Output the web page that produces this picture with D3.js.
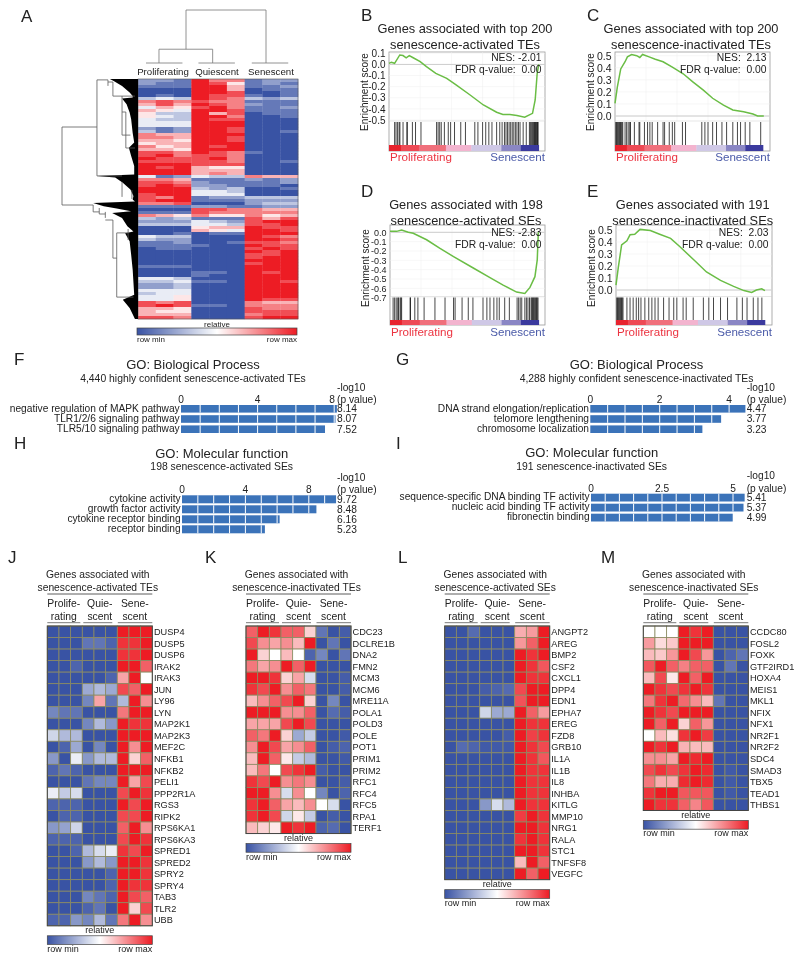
<!DOCTYPE html>
<html><head><meta charset="utf-8">
<script src="https://cdn.jsdelivr.net/npm/d3@7"></script>
<style>html,body{margin:0;background:#fff}svg{display:block;font-family:"Liberation Sans",Arial,sans-serif;filter:blur(.3px)}text{fill:#222}</style>
</head><body><svg id="c" width="800" height="961" viewBox="0 0 800 961"></svg>
<script>
// ---------- DATA ----------
const groupNames = ["Proliferating","Quiescent","Senescent"];
// Panel A: each row is 9 samples, digit 0 = row min, 9 = row max
const aRows = ["221977122","211985121","111996112","000996011","000998001","010988101","343987323","787877111","686987211","465897112",
"654998111","533968011","543997001","433988000","444999000","444999000","212998000","312998001","766999000","776998000",
"665998000","566999000","756989000","665999000","887987100","897887000","988897000","888887001","999888000","989655000",
"999666000","999676000","412433766","776111212","887211112","898221110","999323001","999443000","899444000","879122333",
"899111222","778000233","111221122","000887766","111877777","765755756","323111868","222432899","333443889","000566988",
"000654998","001011999","433000987","322000998","112001887","111100988","011000898","000000989","000000889","000000899",
"000000999","000000899","111000999","000000999","000110989","000100999","443000999","334110998","223000999","223000999",
"444000999","344000999","445000999","445000988","878000766","898110777","665000877","655000888","666000788","887000899"];
// row dendrogram: black mass outline [row, height]
const aMass = [[0,37],[0.7,32],[2.3,21],[4.5,11],[5.7,7],[6.2,7],[6.5,21],[8.4,15],[11.2,11],[13.4,9],[18,7],[21.2,5],[22.9,12],[25.7,9],[29,5],[31.8,5],[32.3,54],[32.8,30],[34.6,20],[36.8,10],[39,6],[40.2,7],[40.8,4],[41.3,59],[42.4,45],[43.2,28],[44.1,9],[44.7,34],[46.3,21],[49.1,14],[50.8,6],[51.4,17],[54.1,11],[58.6,9],[63.6,7],[71.9,5],[73.6,20],[76.3,11],[80,4]];
// row dendrogram links [height, rowA, rowB] (vertical) and [row, heightA, heightB] (horizontal)
const aRowV = [[100,16,42],[54,0.3,32.3],[39.5,0.3,2.3],[33,1,5.7],[21,5.7,18.7],[16,11,23],[21,34.3,39.3],[8,37,40],[59,42,44.3],[51,43,45],[43,44.3,46.3],[33,47,59.7],[28,51.3,72.7],[13,50,53.7]];
const aRowH = [[16,100,54],[42,100,59],[0.3,54,39.5],[1,39.5,33],[5.7,33,4],[32.3,54,21],[18.7,21,10],[23,16,4],[11,21,16],[44.3,59,51],[45,51,43],[47,43,33],[59.7,33,28],[72.7,28,6],[51.3,28,13]];
// column dendrogram [colA, colB, height] with legs [col, h0, h1]
const aColH = [[2.7,7.2,100],[1.18,4.2,26],[0.45,2.5,0],[3.4,5.45,0],[6.4,8.45,0]];
const aColV = [[2.7,100,26],[7.2,100,0],[1.18,26,0],[4.2,26,0]];

// GSEA running enrichment [rank %, ES]
const bCurve = [[0,.01],[1.5,.02],[3.6,.01],[6.9,.085],[9,.08],[11,.06],[13,.08],[15.5,.06],[20,.025],[24,-.02],[30,-.08],[37,-.125],[43,-.185],[52,-.275],[60.5,-.365],[69,-.43],[73,-.45],[77.5,-.45],[82,-.46],[87,-.475],[92,-.44],[93.7,-.32],[95,-.08],[96,0]];
const cCurve = [[0,.105],[1.5,.24],[3.7,.39],[6.5,.45],[8,.49],[10.7,.51],[14,.5],[16,.485],[17.8,.51],[22,.49],[26,.47],[31,.45],[37,.405],[44,.35],[50,.285],[57,.215],[63,.147],[70,.09],[76,.05],[83,.036],[89,.017],[92,0],[96,0]];
const dCurve = [[0,.01],[4.3,.01],[7.5,.025],[11.8,0],[15,-.01],[23.6,-.08],[32,-.17],[41,-.26],[54,-.385],[64.5,-.485],[73,-.565],[81.7,-.64],[87,-.655],[90.3,-.59],[93.5,-.475],[95,-.295],[95.7,0]];
const eCurve = [[0,.04],[1.5,.19],[3.6,.375],[7,.41],[9,.46],[12,.465],[15.4,.505],[22,.495],[28,.465],[35,.43],[41,.36],[50,.25],[58,.15],[67,.08],[75.4,.03],[82,-.005],[87,-.02],[90,0],[93.4,.01],[95.5,-.005]];
// gene hits, rank %
const bHits = [3.6,4.5,5.5,6.5,7,9,11.5,11.7,15,17,20.5,30.5,31.5,32.5,33.5,35.5,38,39.5,42,46,49,55,57,60,62,64,66,69,71,72.5,74,75,76,77,78,79,80,81,82,83,84,86,88,90,90.6,91.2,91.8,92.3,92.8,93.2,93.6,94,94.4,94.8,95.2,95.6];
const cHits = [.5,1,1.5,2,2.5,3,3.5,4,4.5,5,6.5,7.5,8.5,9.5,10,12.5,15.5,16,19,21,22.5,24,27.5,31,32,35,37,38.5,43.5,45.5,56,58,60,63,65.5,69,72,76,79,81,84,87,94];
const dHits = [2,3,4,5,5.5,6.5,7,7.5,13,13.2,16,18,22,29,35.5,41,42,46.5,50.5,53.5,60,62.5,64.5,67,69,70.5,74,77,82,83,84,85,87,88,89,90,91,91.5,92,92.5,93,93.5,94,94.5,95,95.5];
const eHits = [.5,1,1.5,2,2.5,3,3.5,4,4.5,7,9,11,13,14.5,16,18.5,21,23,25,27,30.5,34,37,39,43,45,49.5,56,59.5,62.5,67,71.5,77.5,81,84,88,91,93.5];
const stripStops = [[0,"#e8232e"],[8,"#ee4a55"],[20,"#f0707c"],[38,"#f3b4cf"],[55,"#cfc8e6"],[75,"#8a86c4"],[88,"#3b3a9e"]];

// GO bars
const fTerms = ["negative regulation of MAPK pathway","TLR1/2/6 signaling pathway","TLR5/10 signaling pathway"], fVals = [8.14,8.07,7.52];
const gTerms = ["DNA strand elongation/replication","telomore lengthening","chromosome localization"], gVals = [4.47,3.77,3.23];
const hTerms = ["cytokine activity","growth factor activity","cytokine receptor binding","receptor binding"], hVals = [9.72,8.48,6.16,5.23];
const iTerms = ["sequence-specific DNA binding TF activity","nucleic acid binding TF activity","fibronectin binding"], iVals = [5.41,5.37,4.99];

// Heat maps: 0 = row min, 5 = middle, 10 = row max
const jGenes = ["DUSP4","DUSP5","DUSP6","IRAK2","IRAK3","JUN","LY96","LYN","MAP2K1","MAP2K3","MEF2C","NFKB1","NFKB2","PELI1","PPP2R1A","RGS3","RIPK2","RPS6KA1","RPS6KA3","SPRED1","SPRED2","SPRY2","SPRY4","TAB3","TLR2","UBB"];
const jVals = [[0,0,0,0,0,0,10,10,10],[0,0,0,1,1,.5,9.5,9.5,10],[0,0,0,0,0,0,9.5,9.5,10],[0,0,.5,0,0,0,10,10,8.5],[0,0,0,0,0,.5,7,10,5],[0,0,0,2.5,3,2.5,9,8.5,10],[0,0,0,1.5,7,1,3,10,7.5],[1.5,1,1,0,0,0,8,10,10],[0,0,0,1.5,3,2,10,9.5,9.5],[3.8,3,3,0,0,0,10,10,10],[0,.5,2.5,0,1.5,0,10,7.5,10],[2,0,4.5,2,3,3,10,6,8.5],[.5,1,.5,0,0,0,10,10,10],[0,0,0,1,1.5,1.5,10,7,9],[4.5,3.5,4,0,0,0,9,10,9.5],[.5,.5,.5,0,0,0,10,9,10],[0,.5,.5,0,0,0,9,9,10],[2,2.3,3.8,0,0,0,8.5,10,7.5],[.5,.5,.5,0,0,0,9,10,9.5],[0,0,.5,3,4,4.5,9.5,9,10],[0,0,0,2,3,2,10,10,9.5],[0,0,0,0,0,.5,10,10,9.5],[0,0,0,0,0,.5,10,9.5,9.5],[0,0,0,1.5,1,.5,10,9,8.5],[0,0,0,.5,1,0,10,6,9],[.5,.5,2,1.5,3,1,8,10,7.5]];
const kGenes = ["CDC23","DCLRE1B","DNA2","FMN2","MCM3","MCM6","MRE11A","POLA1","POLD3","POLE","POT1","PRIM1","PRIM2","RFC1","RFC4","RFC5","RPA1","TERF1"];
const kVals = [[8.5,10,9.5,8.5,8.5,6,1,0,.3],[9,7.5,7,7.5,6.5,10,0,1,0],[10,6,5,6.5,5,.5,1.5,0,1],[8,7,7.5,10,8.5,10,0,0,0],[10,10,9.5,6,7,4,0,0,.3],[9.5,9,10,7.5,8.5,8,0,0,.3],[6.5,7.5,8.5,9,10,6,0,1.5,0],[10,10,10,7.5,7.5,8.5,0,.7,.3],[7,7,7,9,10,9,0,0,0],[8.5,8,10,6,2.5,3.5,0,0,.2],[7.5,10,9,7,7.5,8.5,0,.3,.5],[6.5,10,8.5,5.5,3.5,3,0,0,.2],[6.5,8,5,9,9.5,10,.3,0,0],[9.5,9,10,7.5,8,7.5,0,0,.3],[10,10,7.5,4,7.5,5,1.5,0,.5],[9.5,10,8.5,7,6.5,7.5,5,4,0],[9.5,10,9,3.8,5.5,3.5,0,.3,0],[6.5,6,5.5,10,9.5,10,.5,.7,0]];
const lGenes = ["ANGPT2","AREG","BMP2","CSF2","CXCL1","DPP4","EDN1","EPHA7","EREG","FZD8","GRB10","IL1A","IL1B","IL8","INHBA","KITLG","MMP10","NRG1","RALA","STC1","TNFSF8","VEGFC"];
const lVals = [[0,0,.7,0,0,0,6.8,7.2,10],[0,0,0,0,0,0,7.3,8.5,10],[0,0,0,0,0,0,10,9.5,10],[0,0,0,0,0,0,10,9.5,8.7],[0,0,0,0,0,0,10,9.5,9.5],[0,0,0,.3,.5,.7,9,10,10],[0,0,0,0,0,0,8.8,10,10],[0,0,0,3.8,2.5,2.5,10,8.5,7.2],[0,0,0,0,0,0,10,9.5,9.5],[0,0,0,0,0,.3,10,9.2,9.5],[0,.7,.5,.2,.2,.2,10,9.5,9],[0,0,0,0,0,0,10,9.5,8.7],[0,0,0,0,0,0,10,9.5,9.5],[0,0,0,0,0,0,10,9.5,9.5],[0,0,0,0,0,0,10,9.5,9.5],[0,0,0,2,4,3,10,9.5,9.5],[0,0,0,0,0,0,9.3,10,9.5],[0,0,0,0,0,0,10,10,9.5],[0,0,0,0,0,0,9.5,10,9.5],[0,0,0,0,0,0,10,10,9.5],[0,0,0,0,0,0,6.5,10,8.5],[0,0,0,0,0,0,10,8.5,10]];
const mGenes = ["CCDC80","FOSL2","FOXK","GTF2IRD1","HOXA4","MEIS1","MKL1","NFIX","NFX1","NR2F1","NR2F2","SDC4","SMAD3","TBX5","TEAD1","THBS1"];
const mVals = [[5,5,5,10,9.5,10,0,0,0],[7.2,5.8,6.2,10,10,10,0,0,0],[6.5,6.2,7.3,10,9,7.3,0,.5,1],[8.7,10,8.5,7.8,8.5,8.5,0,1,0],[6.5,9,5.5,10,8.5,10,0,0,0],[10,9.5,9,9.5,10,9.5,0,0,0],[8,9.5,10,8.3,7.5,6.5,1,0,0],[10,9.5,9,10,10,10,0,0,0],[10,8.5,10,6,8.5,7.3,0,0,0],[5,6.5,5.7,9.5,10,9.3,0,0,0],[10,9.5,10,6.7,6.5,6.5,0,0,0],[7.5,7.5,7,10,9.7,10,0,0,0],[9,9.5,9,9.5,10,9.7,0,.2,0],[8,6.8,6.8,9.7,10,9.7,0,.2,0],[9.5,10,10,8.7,8.7,8.7,0,.2,0],[10,9.5,9.5,8.5,7.7,8.7,0,0,0]];

// ---------- DRAWING ----------
const svg = d3.select("#c");
const BLUE="#3953a4", RED="#ed1c24";
const heat = d3.scaleLinear().domain([0,5,10]).range([BLUE,"#ffffff",RED]);
const txt=(g,x,y,s,size,anchor="start",fill="#222")=>g.append("text").attr("x",x).attr("y",y).attr("font-size",size).attr("text-anchor",anchor).style("fill",fill).text(s);

const grad = svg.append("defs").append("linearGradient").attr("id","hg");
d3.range(0,10.01,1).forEach(v=>grad.append("stop").attr("offset",(v*10)+"%").attr("stop-color",heat(v)));

// panel letters
[["A",21,22],["B",361,21],["C",587,21],["D",361,197],["E",587,197],["F",14,365],["G",396,365],["H",14,449],["I",396,449],["J",8,563],["K",205,563],["L",398,563],["M",601,563]]
 .forEach(d=>txt(svg,d[1],d[2],d[0],17));

function colorbar(x0,x1,y0,y1,relY,lblY,size){
  svg.append("rect").attr("x",x0).attr("y",y0).attr("width",x1-x0).attr("height",y1-y0).attr("fill","url(#hg)").attr("stroke","#444").attr("stroke-width",.7);
  txt(svg,(x0+x1)/2,relY,"relative",size,"middle");
  txt(svg,x0,lblY,"row min",size);
  txt(svg,x1,lblY,"row max",size,"end");
}

// Panel A
(function(){
  const g=svg.append("g");
  const xs=d3.scaleLinear([0,9],[138,298]), ys=d3.scaleLinear([0,aRows.length],[79,319]);
  const hx=d3.scaleLinear([0,100],[138,62]);
  g.selectAll("g.r").data(aRows).join("g").each(function(row,i){
    d3.select(this).selectAll("rect").data(row.split("").map(Number)).join("rect")
      .attr("x",(d,j)=>xs(j)).attr("y",ys(i)).attr("width",xs(1)-xs(0)+.3).attr("height",ys(1)-ys(0)+.2)
      .attr("fill",d=>heat(d/9*10));
  });
  g.append("rect").attr("x",138).attr("y",79).attr("width",160).attr("height",240).attr("fill","none").attr("stroke","#555").attr("stroke-width",.6);
  const area=d3.area().x0(d=>hx(d[1])).x1(hx(0)).y(d=>ys(d[0]));
  g.append("path").attr("d",area(aMass)).attr("fill","#000");
  const link=g.append("g").attr("stroke","#5a5a5a").attr("stroke-width",.8).attr("fill","none");
  aRowV.forEach(d=>link.append("line").attr("x1",hx(d[0])).attr("x2",hx(d[0])).attr("y1",ys(d[1])).attr("y2",ys(d[2])));
  aRowH.forEach(d=>link.append("line").attr("y1",ys(d[0])).attr("y2",ys(d[0])).attr("x1",hx(d[1])).attr("x2",hx(d[2])));
  const cy=d3.scaleLinear([0,100],[63,10]);
  const cl=g.append("g").attr("stroke","#777").attr("stroke-width",.8);
  aColH.forEach(d=>cl.append("line").attr("x1",xs(d[0])).attr("x2",xs(d[1])).attr("y1",cy(d[2])).attr("y2",cy(d[2])));
  aColV.forEach(d=>cl.append("line").attr("x1",xs(d[0])).attr("x2",xs(d[0])).attr("y1",cy(d[1])).attr("y2",cy(d[2])));
  groupNames.forEach((n,i)=>txt(g,[163,217,271][i],75,n,9.7,"middle"));
  colorbar(137,297,328,335,327,342,8);
})();

// GSEA panels
function gsea(o){
  const g=svg.append("g");
  const [L,R]=o.frame, T=o.top, B=o.bottom;
  const x=d3.scaleLinear([0,100],[L,R]);
  const y=d3.scaleLinear(o.yd,o.yr);
  g.append("rect").attr("x",L).attr("y",T).attr("width",R-L).attr("height",B-T).attr("fill","none").attr("stroke","#999").attr("stroke-width",.8);
  const gr=g.append("g").attr("stroke","#eee").attr("stroke-width",.5);
  o.ticks.forEach(t=>gr.append("line").attr("x1",L).attr("x2",R).attr("y1",y(t)).attr("y2",y(t)));
  d3.range(20,100,20).forEach(t=>gr.append("line").attr("x1",x(t)).attr("x2",x(t)).attr("y1",T).attr("y2",o.curveB));
  g.append("line").attr("x1",L).attr("x2",R).attr("y1",y(0)).attr("y2",y(0)).attr("stroke","#ccc").attr("stroke-width",1);
  g.append("line").attr("x1",L).attr("x2",R).attr("y1",o.curveB).attr("y2",o.curveB).attr("stroke","#ccc").attr("stroke-width",.5);
  g.append("path").attr("d",d3.line().x(d=>x(d[0])).y(d=>y(d[1]))(o.curve)).attr("fill","none").attr("stroke","#6abd45").attr("stroke-width",1.5);
  g.append("g").selectAll("line").data(o.hits).join("line").attr("x1",d=>x(d)).attr("x2",d=>x(d)).attr("y1",o.curveB+1).attr("y2",o.stripT)
    .attr("stroke","#000").attr("stroke-width",1).attr("stroke-opacity",.72);
  stripStops.forEach((s,i)=>{
    const e=i<stripStops.length-1?stripStops[i+1][0]:100;
    g.append("rect").attr("x",x(s[0]*o.stripEnd/100)).attr("width",x(e*o.stripEnd/100)-x(s[0]*o.stripEnd/100)+.3).attr("y",o.stripT).attr("height",B-o.stripT).attr("fill",s[1]);
  });
  const ax=d3.axisLeft(y).tickValues(o.ticks).tickFormat(d=>d3.format(".1f")(d).replace("−","-")).tickSize(0).tickPadding(3);
  const ag=g.append("g").attr("transform",`translate(${L-.5},0)`).call(ax);
  ag.select(".domain").remove();
  ag.selectAll("text").attr("font-size",o.tickSize||10.5).attr("font-family",'"Liberation Sans",Arial,sans-serif').style("fill","#222");
  g.append("text").attr("transform",`translate(${L-21.5},${o.labelY}) rotate(-90)`).attr("font-size",10).attr("text-anchor","middle").style("fill","#222").text("Enrichment score");
  o.title.forEach((s,i)=>txt(g,o.cx,o.titleY+i*15.7,s,12.8,"middle"));
  txt(g,R-3.5,o.nesY,o.nes,10.3,"end").attr("xml:space","preserve");
  txt(g,R-3.5,o.nesY+12.4,"FDR q-value:  0.00",10.3,"end").attr("xml:space","preserve");
  txt(g,L+1,o.lowY,"Proliferating",11.6,"start","#ec3340");
  txt(g,R,o.lowY,"Senescent",11.6,"end","#4a5aa8");
}
gsea({frame:[389,545],top:52,bottom:151,curveB:121,stripT:145,yd:[.1,-.5],yr:[53.3,120],ticks:[.1,0,-.1,-.2,-.3,-.4,-.5],tickSize:10,curve:bCurve,hits:bHits,stripEnd:96,labelY:92,cx:465,titleY:33,title:["Genes associated with top 200","senescence-activated TEs"],nes:"NES: -2.01",nesY:61,lowY:161});
gsea({frame:[615,770],top:52,bottom:151,curveB:121,stripT:145,yd:[.5,0],yr:[55.7,116],ticks:[.5,.4,.3,.2,.1,0],curve:cCurve,hits:cHits,stripEnd:95.5,labelY:92,cx:691,titleY:33,title:["Genes associated with top 200","senescence-inactivated TEs"],nes:"NES:  2.13",nesY:61,lowY:161});
gsea({frame:[390,545],top:225,bottom:325,curveB:296.5,stripT:320,yd:[0,-.7],yr:[232.3,297.7],ticks:[0,-.1,-.2,-.3,-.4,-.5,-.6,-.7],tickSize:9,curve:dCurve,hits:dHits,stripEnd:96,labelY:268,cx:466,titleY:209,title:["Genes associated with 198","senescence-activated SEs"],nes:"NES: -2.83",nesY:235.7,lowY:336});
gsea({frame:[616,772],top:225,bottom:325,curveB:296.5,stripT:320,yd:[.5,0],yr:[230,290],ticks:[.5,.4,.3,.2,.1,0],curve:eCurve,hits:eHits,stripEnd:95.5,labelY:268,cx:692.7,titleY:209,title:["Genes associated with 191","senescence-inactivated SEs"],nes:"NES:  2.03",nesY:235.7,lowY:336});

// GO panels
function goPanel(o){
  const g=svg.append("g");
  const x=d3.scaleLinear([0,o.unitMax],[o.x0,o.x0+o.unitMax*o.ppu]);
  txt(g,o.cx,o.titleY,o.title,13,"middle");
  txt(g,o.cx,o.subY,o.sub,10.4,"middle");
  txt(g,o.valX,o.logY,"-log10",10.2);
  txt(g,o.valX,o.logY+12.5,"(p value)",10.2);
  o.ticks.forEach(t=>txt(g,x(t)-(t===o.ticks[o.ticks.length-1]&&o.nudge?o.nudge:0),o.logY+12.5,String(t),10.2,"middle"));
  const yb=d3.scaleBand().domain(d3.range(o.vals.length)).range([o.rowY,o.rowY+o.vals.length*o.pitch]);
  o.vals.forEach((v,i)=>{
    const y0=yb(i);
    g.append("rect").attr("x",o.x0).attr("y",y0).attr("width",x(v)-o.x0).attr("height",o.barH).attr("fill","#3b73b9");
    d3.range(o.step,v,o.step).forEach(k=>g.append("line").attr("x1",x(k)).attr("x2",x(k)).attr("y1",y0).attr("y2",y0+o.barH).attr("stroke","#fff").attr("stroke-width",1));
    txt(g,o.x0-1.3,y0+6.7,o.terms[i],10.2,"end");
    txt(g,o.valX,y0+7.2,d3.format(".2f")(v),10.2);
  });
}
goPanel({title:"GO: Biological Process",sub:"4,440 highly confident senescence-activated TEs",cx:193,titleY:369,subY:382,x0:181,ppu:19.15,unitMax:9,step:1,ticks:[0,4,8],nudge:2,vals:fVals,terms:fTerms,rowY:405,pitch:10.2,barH:7.6,valX:337,logY:390.5});
goPanel({title:"GO: Biological Process",sub:"4,288 highly confident senescence-inactivated TEs",cx:636.5,titleY:369,subY:382,x0:590.3,ppu:34.7,unitMax:5,step:.5,ticks:[0,2,4],vals:gVals,terms:gTerms,rowY:405,pitch:10.2,barH:7.6,valX:746.7,logY:390.5});
goPanel({title:"GO: Molecular function",sub:"198 senescence-activated SEs",cx:221.7,titleY:458,subY:470,x0:182,ppu:15.85,unitMax:10,step:1,ticks:[0,4,8],vals:hVals,terms:hTerms,rowY:495.3,pitch:10,barH:8,valX:337,logY:480.5});
goPanel({title:"GO: Molecular function",sub:"191 senescence-inactivated SEs",cx:591.7,titleY:457,subY:470,x0:591,ppu:28.4,unitMax:5.5,step:.5,ticks:[0,2.5,5],vals:iVals,terms:iTerms,rowY:493.7,pitch:10,barH:7.8,valX:746.7,logY:479.2});

// Heat map panels
function heatPanel(o){
  const g=svg.append("g");
  const n=o.genes.length, L=o.x0, R=L+105, T=626, B=T+n*11.53;
  const xs=d3.scaleBand().domain(d3.range(9)).range([L,R]);
  const ys=d3.scaleBand().domain(o.genes).range([T,B]);
  o.genes.forEach((gene,i)=>{
    g.append("g").selectAll("rect").data(o.vals[i]).join("rect")
      .attr("x",(d,j)=>xs(j)).attr("y",ys(gene)).attr("width",xs.bandwidth()).attr("height",ys.bandwidth())
      .attr("fill",d=>heat(d)).attr("stroke","#8b8b62").attr("stroke-width",.8);
    txt(g,R+1.6,ys(gene)+ys.bandwidth()/2+3.4,gene,9.2);
  });
  g.append("rect").attr("x",L).attr("y",T).attr("width",R-L).attr("height",B-T).attr("fill","none").attr("stroke","#444").attr("stroke-width",1);
  const cx=L+50.5;
  txt(g,cx,578,"Genes associated with",10.3,"middle");
  txt(g,cx,590.7,o.sub,10.3,"middle");
  g.append("line").attr("x1",L).attr("x2",R).attr("y1",594).attr("y2",594).attr("stroke","#333").attr("stroke-width",.8);
  [["Prolife-","rating",16.5,0,33],["Quie-","scent",52.5,36,65],["Sene-","scent",87.5,70.5,105]].forEach(d=>{
    txt(g,L+d[2],606.7,d[0],10.4,"middle");
    txt(g,L+d[2],620,d[1],10.4,"middle");
    g.append("line").attr("x1",L+d[3]).attr("x2",L+d[4]).attr("y1",622.7).attr("y2",622.7).attr("stroke","#555").attr("stroke-width",.8);
  });
  const y0=B+10;
  colorbar(L,R,y0,y0+8.7,y0-2.4,y0+16,9);
}
heatPanel({x0:47.3,genes:jGenes,vals:jVals,sub:"senescence-activated TEs"});
heatPanel({x0:246,genes:kGenes,vals:kVals,sub:"senescence-inactivated TEs"});
heatPanel({x0:444.7,genes:lGenes,vals:lVals,sub:"senescence-activated SEs"});
heatPanel({x0:643.3,genes:mGenes,vals:mVals,sub:"senescence-inactivated SEs"});
</script></body></html>
